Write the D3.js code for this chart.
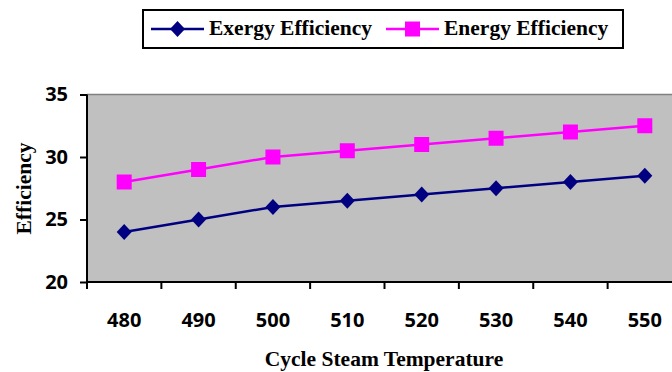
<!DOCTYPE html>
<html>
<head>
<meta charset="utf-8">
<script src="https://cdn.jsdelivr.net/npm/d3@7"></script>
<style>
  html, body { margin: 0; padding: 0; background: #fff; }
  svg { display: block; overflow: hidden; }
</style>
</head>
<body>
<script>
// Cycle steam temperature vs. efficiency
const temperatures = [480, 490, 500, 510, 520, 530, 540, 550];
const exergyEfficiency = [24, 25, 26, 26.5, 27, 27.5, 28, 28.5];
const energyEfficiency = [28, 29, 30, 30.5, 31, 31.5, 32, 32.5];
const yTicks = [20, 25, 30, 35];

const series = [
  { name: "Exergy Efficiency", values: exergyEfficiency, color: "#000080", symbol: "diamond" },
  { name: "Energy Efficiency", values: energyEfficiency, color: "#FF00FF", symbol: "square" }
];

const W = 672, H = 372;
const plot = { left: 87, top: 94.5, right: 682, bottom: 282 };

const svg = d3.select("body").append("svg")
  .attr("width", W).attr("height", H);

const x = d3.scaleBand()
  .domain(temperatures)
  .range([plot.left, plot.right])
  .padding(0);
const xc = d => x(d) + x.bandwidth() / 2;

const y = d3.scaleLinear()
  .domain([20, 35])
  .range([plot.bottom, plot.top]);

// plot area
svg.append("rect")
  .attr("x", plot.left).attr("y", plot.top)
  .attr("width", plot.right - plot.left).attr("height", plot.bottom - plot.top)
  .attr("fill", "#C0C0C0");
svg.append("line")
  .attr("x1", plot.left).attr("x2", plot.right)
  .attr("y1", plot.top).attr("y2", plot.top)
  .attr("stroke", "#808080").attr("stroke-width", 1.5);

const tickFont = "'Open Sans', sans-serif";
const serif = "'Liberation Serif', 'Times New Roman', serif";
const titleSize = 21.5;

// y axis
const yAxis = d3.axisLeft(y).tickValues(yTicks).tickSize(7).tickPadding(12);
const gy = svg.append("g").attr("transform", `translate(${plot.left},0)`).call(yAxis);
gy.select(".domain").remove();
gy.append("line")
  .attr("x1", 0).attr("x2", 0)
  .attr("y1", plot.top).attr("y2", plot.bottom + 7)
  .attr("stroke", "#000").attr("stroke-width", 2);
gy.selectAll(".tick line").attr("stroke", "#000").attr("stroke-width", 2);
gy.selectAll(".tick text")
  .attr("font-family", tickFont).attr("font-weight", "bold")
  .attr("font-size", 20).attr("fill", "#000");

// x axis: ticks sit on band boundaries, labels at band centres
const gx = svg.append("g").attr("transform", `translate(0,${plot.bottom})`);
gx.append("line")
  .attr("x1", plot.left).attr("x2", plot.right)
  .attr("y1", 0).attr("y2", 0)
  .attr("stroke", "#000").attr("stroke-width", 2);
gx.selectAll(".xtick").data(temperatures.slice(1)).join("line")
  .attr("class", "xtick")
  .attr("x1", d => x(d)).attr("x2", d => x(d))
  .attr("y1", 0).attr("y2", 7)
  .attr("stroke", "#000").attr("stroke-width", 2);
gx.selectAll(".xlabel").data(temperatures).join("text")
  .attr("class", "xlabel")
  .attr("x", d => xc(d)).attr("y", 45)
  .attr("text-anchor", "middle")
  .attr("font-family", tickFont).attr("font-weight", "bold")
  .attr("font-size", 20).attr("fill", "#000")
  .text(d => d);

// axis titles
svg.append("text")
  .attr("x", 384).attr("y", 366)
  .attr("text-anchor", "middle")
  .attr("font-family", serif).attr("font-weight", "bold")
  .attr("font-size", titleSize)
  .text("Cycle Steam Temperature");
svg.append("text")
  .attr("transform", "translate(31,188.5) rotate(-90)")
  .attr("text-anchor", "middle")
  .attr("font-family", serif).attr("font-weight", "bold")
  .attr("font-size", titleSize)
  .text("Efficiency");

// marker shapes
function marker(sel, symbol, color) {
  if (symbol === "square") {
    sel.append("rect")
      .attr("x", -7.5).attr("y", -7.5).attr("width", 15).attr("height", 15)
      .attr("fill", color);
  } else {
    sel.append("path")
      .attr("d", "M0,-8 L7.5,0 L0,8 L-7.5,0 Z")
      .attr("fill", color);
  }
}

const line = d3.line().x((d, i) => xc(temperatures[i])).y(d => y(d));

series.forEach(s => {
  svg.append("path")
    .datum(s.values)
    .attr("d", line)
    .attr("fill", "none")
    .attr("stroke", s.color)
    .attr("stroke-width", 2.5);
  svg.selectAll(null).data(s.values).join("g")
    .attr("transform", (d, i) => `translate(${xc(temperatures[i])},${y(d)})`)
    .each(function () { marker(d3.select(this), s.symbol, s.color); });
});

// legend
const legend = svg.append("g");
legend.append("rect")
  .attr("x", 143).attr("y", 10).attr("width", 480).attr("height", 38)
  .attr("fill", "#fff").attr("stroke", "#000").attr("stroke-width", 2);
const legendX = [151, 386];
series.forEach((s, i) => {
  const g = legend.append("g").attr("transform", `translate(${legendX[i]},29)`);
  g.append("line").attr("x1", 0).attr("x2", 53).attr("y1", 0).attr("y2", 0)
    .attr("stroke", s.color).attr("stroke-width", 2.5);
  marker(g.append("g").attr("transform", "translate(26.5,0)"), s.symbol, s.color);
  g.append("text")
    .attr("x", 58).attr("y", 6)
    .attr("font-family", serif).attr("font-weight", "bold")
    .attr("font-size", titleSize)
    .text(s.name);
});
</script>
</body>
</html>
